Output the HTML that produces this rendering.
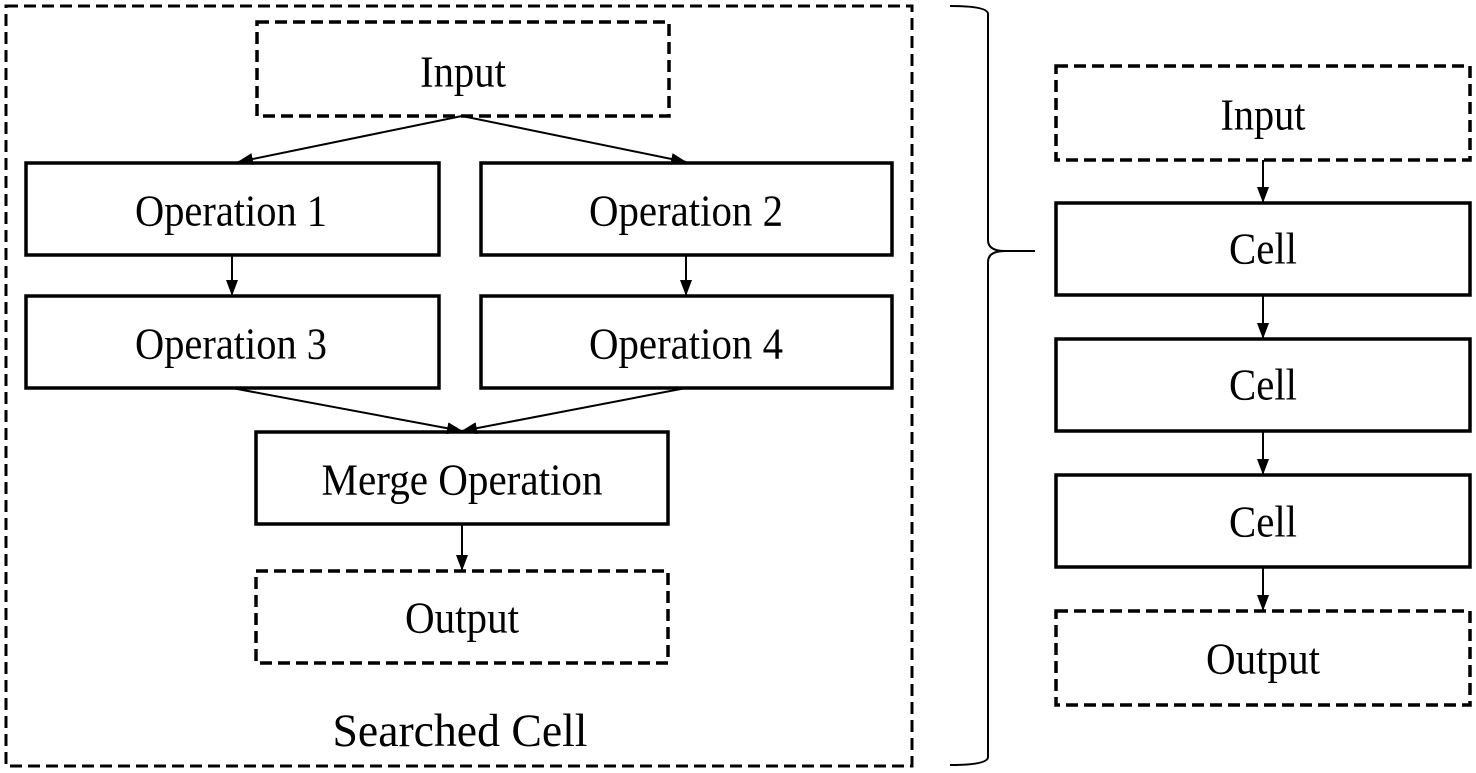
<!DOCTYPE html>
<html><head><style>
html,body{margin:0;padding:0;background:#fff;}
svg{display:block;}
text{font-family:"Liberation Serif",serif;font-size:44px;fill:#000;text-anchor:middle;dominant-baseline:central;}
</style></head><body>
<svg width="1476" height="773" viewBox="0 0 1476 773">
<defs>
<marker id="b" markerWidth="16" markerHeight="16" refX="15" refY="6" orient="auto" markerUnits="userSpaceOnUse"><path d="M0,0 L16,6 L0,12 z" fill="#000"/></marker></defs>
<g fill="none" stroke="#000">
<rect x="6" y="6" width="906" height="760" stroke-width="3" stroke-dasharray="12,6"/>
<rect x="257" y="22" width="412" height="94" stroke-width="3.5" stroke-dasharray="12,6"/>
<rect x="26" y="163" width="413" height="92" stroke-width="3.5"/>
<rect x="481" y="163" width="411" height="92" stroke-width="3.5"/>
<rect x="26" y="296" width="413" height="92" stroke-width="3.5"/>
<rect x="481" y="296" width="411" height="92" stroke-width="3.5"/>
<rect x="256" y="432" width="412" height="92" stroke-width="3.5"/>
<rect x="256" y="571" width="412" height="92" stroke-width="3.5" stroke-dasharray="12,6"/>
<rect x="1056" y="66" width="414" height="94" stroke-width="3.5" stroke-dasharray="12,6"/>
<rect x="1056" y="203" width="414" height="92" stroke-width="3.5"/>
<rect x="1056" y="339" width="414" height="92" stroke-width="3.5"/>
<rect x="1056" y="475" width="414" height="92" stroke-width="3.5"/>
<rect x="1056" y="611" width="414" height="94" stroke-width="3.5" stroke-dasharray="12,6"/>
<g stroke-width="2">
<line x1="462" y1="116" x2="238" y2="162" marker-end="url(#b)"/>
<line x1="462" y1="116" x2="686" y2="162" marker-end="url(#b)"/>
<line x1="232" y1="255" x2="232" y2="295" marker-end="url(#b)"/>
<line x1="686" y1="255" x2="686" y2="295" marker-end="url(#b)"/>
<line x1="232" y1="388" x2="462" y2="431" marker-end="url(#b)"/>
<line x1="686" y1="388" x2="462" y2="431" marker-end="url(#b)"/>
<line x1="462" y1="524" x2="462" y2="570" marker-end="url(#b)"/>
<line x1="1263" y1="160" x2="1263" y2="202" marker-end="url(#b)"/>
<line x1="1263" y1="295" x2="1263" y2="338" marker-end="url(#b)"/>
<line x1="1263" y1="431" x2="1263" y2="474" marker-end="url(#b)"/>
<line x1="1263" y1="567" x2="1263" y2="610" marker-end="url(#b)"/>
<path d="M950,6 Q988,6 988,14 L988,240 Q988,251 1005,251 L1035,251 M1005,251 Q988,251 988,262 L988,757 Q988,765 950,765"/>
</g></g>
<text x="463" y="72" textLength="86" lengthAdjust="spacingAndGlyphs">Input</text>
<text x="231" y="211" textLength="192" lengthAdjust="spacingAndGlyphs">Operation 1</text>
<text x="686" y="211" textLength="194" lengthAdjust="spacingAndGlyphs">Operation 2</text>
<text x="231" y="344" textLength="192" lengthAdjust="spacingAndGlyphs">Operation 3</text>
<text x="686" y="344" textLength="194" lengthAdjust="spacingAndGlyphs">Operation 4</text>
<text x="462" y="480" textLength="281" lengthAdjust="spacingAndGlyphs">Merge Operation</text>
<text x="462" y="618" textLength="114" lengthAdjust="spacingAndGlyphs">Output</text>
<text x="460" y="731" textLength="255" lengthAdjust="spacingAndGlyphs" style="font-size:47px">Searched Cell</text>
<text x="1263" y="115" textLength="85" lengthAdjust="spacingAndGlyphs">Input</text>
<text x="1263" y="249" textLength="68" lengthAdjust="spacingAndGlyphs">Cell</text>
<text x="1263" y="385" textLength="68" lengthAdjust="spacingAndGlyphs">Cell</text>
<text x="1263" y="522" textLength="68" lengthAdjust="spacingAndGlyphs">Cell</text>
<text x="1263" y="659" textLength="114" lengthAdjust="spacingAndGlyphs">Output</text>
</svg>
</body></html>
